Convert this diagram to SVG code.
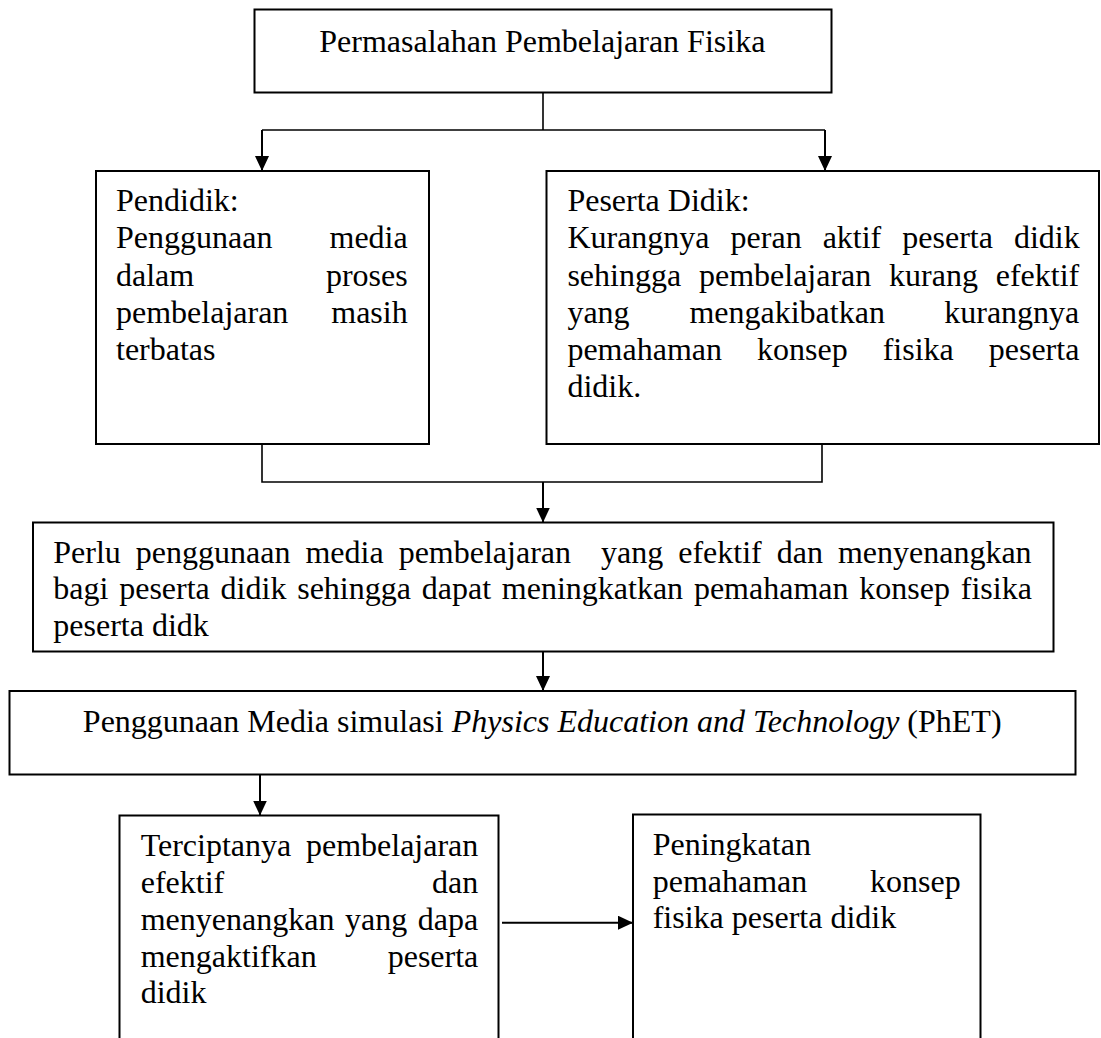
<svg xmlns="http://www.w3.org/2000/svg" width="1101" height="1038" viewBox="0 0 1101 1038">
<style>
text{font-family:"Liberation Serif","Times New Roman",serif;font-size:32px;fill:#000}
.box{fill:#fff;stroke:#000;stroke-width:2}
.ln{fill:none;stroke:#000;stroke-width:1.6}
.ar{fill:none;stroke:#000;stroke-width:2;marker-end:url(#arr)}
.e{text-anchor:end}
.m{text-anchor:middle}
</style>
<defs>
<marker id="arr" viewBox="0 0 15 14" refX="15" refY="7" markerWidth="15" markerHeight="14" orient="auto" markerUnits="userSpaceOnUse">
<path d="M0,0 L15,7 L0,14 z" fill="#000"/>
</marker>
</defs>
<rect width="1101" height="1038" fill="#fff"/>

<g id="connectors">
<line class="ln" x1="543" y1="92.5" x2="543" y2="130"/>
<line class="ln" x1="262" y1="130" x2="825" y2="130"/>
<line class="ar" x1="262" y1="130" x2="262" y2="171"/>
<line class="ar" x1="825" y1="130" x2="825" y2="171"/>
<polyline class="ln" points="262,444 262,482 822,482 822,444"/>
<line class="ar" x1="543" y1="482" x2="543" y2="522.5"/>
<line class="ar" x1="543" y1="651.5" x2="543" y2="691"/>
<line class="ar" x1="260" y1="774.5" x2="260" y2="815.5"/>
<line class="ar" x1="502" y1="922.7" x2="633" y2="922.7"/>
</g>

<g id="node-masalah">
<rect class="box" x="254.5" y="9.5" width="577" height="83"/>
<text class="m" x="542.3" y="51.7">Permasalahan Pembelajaran Fisika</text>
</g>

<g id="node-pendidik">
<rect class="box" x="96" y="171" width="333" height="273"/>
<text x="116" y="211">Pendidik:</text>
<text x="116" y="248.3">Penggunaan</text><text class="e" x="407.7" y="248.3">media</text>
<text x="116" y="285.7">dalam</text><text class="e" x="407.7" y="285.7">proses</text>
<text x="116" y="323">pembelajaran</text><text class="e" x="407.7" y="323">masih</text>
<text x="116" y="360.3">terbatas</text>
</g>

<g id="node-peserta">
<rect class="box" x="546.5" y="171" width="552.5" height="273"/>
<text x="567.4" y="211">Peserta Didik:</text>
<text x="567.4" y="248.3" word-spacing="13">Kurangnya peran aktif peserta didik</text>
<text x="567.4" y="285.7" word-spacing="9.8">sehingga pembelajaran kurang efektif</text>
<text x="567.4" y="323">yang</text>
<text x="689.4" y="323">mengakibatkan</text>
<text class="e" x="1079.3" y="323">kurangnya</text>
<text x="567.4" y="360.3" word-spacing="27">pemahaman konsep fisika peserta</text>
<text x="567.4" y="397.3">didik.</text>
</g>

<g id="node-perlu">
<rect class="box" x="33" y="522.5" width="1020.5" height="129"/>
<text x="53.3" y="562.7" word-spacing="7">Perlu penggunaan media pembelajaran<tspan dx="15"> yang efektif dan menyenangkan</tspan></text>
<text x="53.3" y="599.3" word-spacing="2.8">bagi peserta didik sehingga dapat meningkatkan pemahaman konsep fisika</text>
<text x="53.3" y="636">peserta didk</text>
</g>

<g id="node-phet">
<rect class="box" x="9.5" y="691" width="1066" height="83.5"/>
<text class="m" x="542.2" y="732.3">Penggunaan Media simulasi <tspan font-style="italic">Physics Education and Technology</tspan> (PhET)</text>
</g>

<g id="node-tercipta">
<rect class="box" x="119.5" y="815.5" width="379" height="240"/>
<text x="140.7" y="856">Terciptanya</text><text class="e" x="478.3" y="856">pembelajaran</text>
<text x="140.7" y="892.7">efektif</text><text class="e" x="478.3" y="892.7">dan</text>
<text x="140.7" y="930" word-spacing="2.6">menyenangkan yang dapa</text>
<text x="140.7" y="966.7">mengaktifkan</text><text class="e" x="478.3" y="966.7">peserta</text>
<text x="140.7" y="1002.7">didik</text>
</g>

<g id="node-peningkatan">
<rect class="box" x="633" y="814.5" width="347.5" height="240"/>
<text x="652.7" y="855">Peningkatan</text>
<text x="652.7" y="891.7">pemahaman</text><text class="e" x="960.7" y="891.7">konsep</text>
<text x="652.7" y="928.3">fisika peserta didik</text>
</g>
</svg>
